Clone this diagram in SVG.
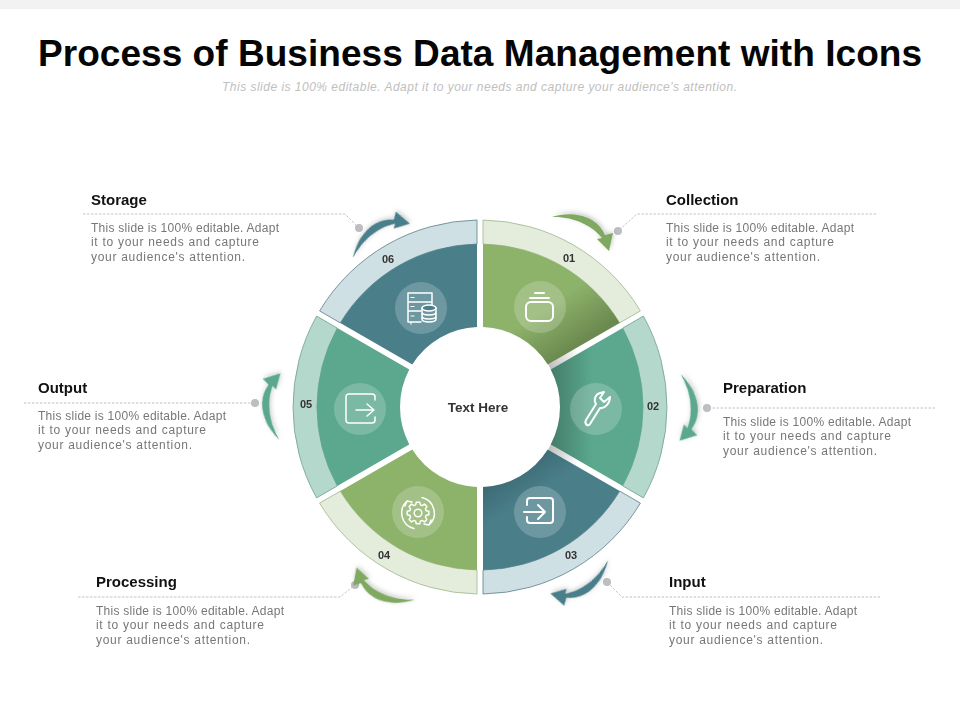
<svg xmlns="http://www.w3.org/2000/svg" xmlns:xlink="http://www.w3.org/1999/xlink" width="960" height="720" viewBox="0 0 960 720">
<style>
text{font-family:"Liberation Sans",Arial,sans-serif}
.h{font-size:15px;font-weight:700;fill:#111}
.b{font-size:12px;fill:#777}
.n{font-size:11px;font-weight:700;fill:#333;text-anchor:middle}
.lead{fill:none;stroke:#b5b5b5;stroke-width:.8;stroke-dasharray:2.5 1.5}
.dot{fill:#bdbdc2}
.g1{fill:#8DB26A}.g2{fill:#5BA88F}.g3{fill:#4A7F8A}
.b1{fill:#E4EDDC;stroke:#9fb58c;stroke-width:.8}
.b2{fill:#B5D8CD;stroke:#6fa08f;stroke-width:.8}
.b3{fill:#CFE0E4;stroke:#5b7f88;stroke-width:.8}
.disc{fill:#fff;fill-opacity:.2}
.ic{fill:none;stroke:#fff;stroke-width:2;stroke-linecap:round;stroke-linejoin:round}
.ic1{fill:none;stroke:#fff;stroke-width:1.5;stroke-linecap:round;stroke-linejoin:round}
</style>
<defs>
<linearGradient id="sh1" gradientUnits="userSpaceOnUse" x1="552" y1="362" x2="525" y2="322"><stop offset="0" stop-color="#6c8a50"/><stop offset="1" stop-color="#8DB26A"/></linearGradient>
<linearGradient id="sh2" gradientUnits="userSpaceOnUse" x1="553" y1="405" x2="592" y2="405"><stop offset="0" stop-color="#457f6c"/><stop offset="1" stop-color="#5BA88F"/></linearGradient>
<linearGradient id="sh3" gradientUnits="userSpaceOnUse" x1="528" y1="452" x2="550" y2="486"><stop offset="0" stop-color="#3b6771"/><stop offset="1" stop-color="#4A7F8A"/></linearGradient>
<linearGradient id="gap1" gradientUnits="userSpaceOnUse" x1="549" y1="367" x2="578" y2="350"><stop offset="0" stop-color="#bdbdbd"/><stop offset="1" stop-color="#fff"/></linearGradient>
<linearGradient id="gap2" gradientUnits="userSpaceOnUse" x1="549" y1="447" x2="578" y2="464"><stop offset="0" stop-color="#bdbdbd"/><stop offset="1" stop-color="#fff"/></linearGradient>
<filter id="ash" x="-40%" y="-40%" width="180%" height="180%"><feDropShadow dx="1" dy="-1.5" stdDeviation="2.5" flood-color="#000" flood-opacity=".22"/></filter>
<path id="arw" d="M552 217C570 211 596 214 605 235L613 233L609 251L597 239L602 238C592 225 572 216 552 217Z"/>
</defs>
<rect width="960" height="720" fill="#fff"/>
<rect width="960" height="9" fill="#f2f2f2"/>
<text x="38" y="66" font-size="37" font-weight="700" fill="#050505" textLength="884" lengthAdjust="spacing">Process of Business Data Management with Icons</text>
<text x="222" y="91" font-size="12" font-style="italic" fill="#c0c0c0" textLength="515" lengthAdjust="spacing">This slide is 100% editable. Adapt it to your needs and capture your audience's attention.</text>

<g id="connectors">
<path class="lead" d="M83 214H345L359 228"/><circle class="dot" cx="359" cy="228" r="4"/>
<path class="lead" d="M876 214H637L618 231"/><circle class="dot" cx="618" cy="231" r="4"/>
<path class="lead" d="M935 408H707"/><circle class="dot" cx="707" cy="408" r="4"/>
<path class="lead" d="M24 403H255"/><circle class="dot" cx="255" cy="403" r="4"/>
<path class="lead" d="M880 597H622L607 582"/><circle class="dot" cx="607" cy="582" r="4"/>
<path class="lead" d="M78 597H340L355 585"/><circle class="dot" cx="355" cy="585" r="4"/>
</g>
<g id="arrows" filter="url(#ash)">
<use xlink:href="#arw" href="#arw" fill="#7FA960"/>
<use xlink:href="#arw" href="#arw" fill="#5BA88F" transform="rotate(60 480 407)"/>
<use xlink:href="#arw" href="#arw" fill="#4A7F8A" transform="rotate(119 480 407) translate(0 4)"/>
<use xlink:href="#arw" href="#arw" fill="#7FA960" transform="rotate(178 480 407)"/>
<use xlink:href="#arw" href="#arw" fill="#5BA88F" transform="rotate(240 480 407)"/>
<use xlink:href="#arw" href="#arw" fill="#4A7F8A" transform="rotate(298 480 407) translate(0 8)"/>
</g>

<path fill="url(#gap1)" d="M548 364L551 370L578 354L575 348Z"/>
<path fill="url(#gap2)" d="M548 450L551 444L578 460L575 466Z"/>

<g id="node-01">
<path class="b1" d="M483 220A187 187 0 0 1 640.4 310.9L619.7 322.9A163 163 0 0 0 483 244Z"/>
<path fill="url(#sh1)" d="M483 244A163 163 0 0 1 619.7 322.9L547.7 364.4A80 80 0 0 0 483 327Z"/>
<circle class="disc" cx="540" cy="307" r="26"/>
<g class="ic"><rect x="526" y="302" width="27" height="19" rx="5"/><path d="M530 298H549M535 293H544"/></g>
<text class="n" x="569" y="262">01</text>
</g>
<g id="node-02">
<path class="b2" d="M643.4 316.1A187 187 0 0 1 643.4 497.9L622.7 485.9A163 163 0 0 0 622.7 328.1Z"/>
<path fill="url(#sh2)" d="M622.7 328.1A163 163 0 0 1 622.7 485.9L550.7 444.4A80 80 0 0 0 550.7 369.6Z"/>
<circle class="disc" cx="596" cy="409" r="26"/>
<path class="ic" d="M586 420L596 404C593 399 596 394 600 393L604 392L600 398L604 402L610 397C610 403 605 409 600 408L590 424C588 427 584 424 586 420Z"/>
<text class="n" x="653" y="410">02</text>
</g>
<g id="node-03">
<path class="b3" d="M640.4 503.1A187 187 0 0 1 483 594V570A163 163 0 0 0 619.7 491.1Z"/>
<path fill="url(#sh3)" d="M619.7 491.1A163 163 0 0 1 483 570V487A80 80 0 0 0 547.7 449.6Z"/>
<circle class="disc" cx="540" cy="512" r="26"/>
<g class="ic"><path d="M527 505V501Q527 498 530 498H550Q553 498 553 501V520Q553 523 550 523H530Q527 523 527 520V517"/><path d="M524 512H545M538 505L545 512L538 519"/></g>
<text class="n" x="571" y="559">03</text>
</g>
<g id="node-04">
<path class="b1" d="M477 594A187 187 0 0 1 319.6 503.1L340.3 491.1A163 163 0 0 0 477 570Z"/>
<path class="g1" d="M477 570A163 163 0 0 1 340.3 491.1L412.3 449.6A80 80 0 0 0 477 487Z"/>
<circle class="disc" cx="418" cy="512" r="26"/>
<g class="ic1" transform="translate(418 513)">
<path d="M8.17 -2.34L10.86 -1.72L10.86 1.72L8.17 2.34L7.43 4.12L8.9 6.47L6.47 8.9L4.12 7.43L2.34 8.17L1.72 10.86L-1.72 10.86L-2.34 8.17L-4.12 7.43L-6.47 8.9L-8.9 6.47L-7.43 4.12L-8.17 2.34L-10.86 1.72L-10.86 -1.72L-8.17 -2.34L-7.43 -4.12L-8.9 -6.47L-6.47 -8.9L-4.12 -7.43L-2.34 -8.17L-1.72 -10.86L1.72 -10.86L2.34 -8.17L4.12 -7.43L6.47 -8.9L8.9 -6.47L7.43 -4.12Z"/>
<circle r="3.8"/>
<path d="M4 -15.5A16 16 0 0 1 11 12M6 11L11 12L13 7"/>
<path d="M-4 15.5A16 16 0 0 1 -11 -12M-6 -11L-11 -12L-13 -7"/>
</g>
<text class="n" x="384" y="559">04</text>
</g>
<g id="node-05">
<path class="b2" d="M316.6 497.9A187 187 0 0 1 316.6 316.1L337.3 328.1A163 163 0 0 0 337.3 485.9Z"/>
<path class="g2" d="M337.3 485.9A163 163 0 0 1 337.3 328.1L409.3 369.6A80 80 0 0 0 409.3 444.4Z"/>
<circle class="disc" cx="360" cy="409" r="26"/>
<g class="ic1"><path d="M375 400V397Q375 394 372 394H349Q346 394 346 397V420Q346 423 349 423H372Q375 423 375 420V417"/><path d="M356 410H374M367 404L374 410L367 416"/></g>
<text class="n" x="306" y="408">05</text>
</g>
<g id="node-06">
<path class="b3" d="M319.6 310.9A187 187 0 0 1 477 220V244A163 163 0 0 0 340.3 322.9Z"/>
<path class="g3" d="M340.3 322.9A163 163 0 0 1 477 244V327A80 80 0 0 0 412.3 364.4Z"/>
<circle class="disc" cx="421" cy="308" r="26"/>
<g class="ic1"><path d="M421 322H408V293H432V306M408 302H432M408 311H421"/>
<path d="M411 297.5H414M411 306.5H414M411 316H414M411 322V324" stroke-width="1.2"/>
<ellipse cx="429" cy="308" rx="7" ry="3" fill="#4A7F8A"/><path d="M422 308V319C422 323 436 323 436 319V308M422 312C422 316 436 316 436 312M422 316C422 320 436 320 436 316"/></g>
<text class="n" x="388" y="263">06</text>
</g>
<g id="node-center"><text x="478" y="412" font-size="13.5" font-weight="700" fill="#333" text-anchor="middle">Text Here</text></g>

<g id="label-storage"><text class="h" x="91" y="205">Storage</text><text class="b" x="91" y="232" textLength="188">This slide is 100% editable. Adapt</text><text class="b" x="91" y="246" textLength="168">it to your needs and capture</text><text class="b" x="91" y="261" textLength="154">your audience's attention.</text></g>
<g id="label-collection"><text class="h" x="666" y="205">Collection</text><text class="b" x="666" y="232" textLength="188">This slide is 100% editable. Adapt</text><text class="b" x="666" y="246" textLength="168">it to your needs and capture</text><text class="b" x="666" y="261" textLength="154">your audience's attention.</text></g>
<g id="label-preparation"><text class="h" x="723" y="393">Preparation</text><text class="b" x="723" y="426" textLength="188">This slide is 100% editable. Adapt</text><text class="b" x="723" y="440" textLength="168">it to your needs and capture</text><text class="b" x="723" y="455" textLength="154">your audience's attention.</text></g>
<g id="label-output"><text class="h" x="38" y="393">Output</text><text class="b" x="38" y="420" textLength="188">This slide is 100% editable. Adapt</text><text class="b" x="38" y="434" textLength="168">it to your needs and capture</text><text class="b" x="38" y="449" textLength="154">your audience's attention.</text></g>
<g id="label-processing"><text class="h" x="96" y="587">Processing</text><text class="b" x="96" y="615" textLength="188">This slide is 100% editable. Adapt</text><text class="b" x="96" y="629" textLength="168">it to your needs and capture</text><text class="b" x="96" y="644" textLength="154">your audience's attention.</text></g>
<g id="label-input"><text class="h" x="669" y="587">Input</text><text class="b" x="669" y="615" textLength="188">This slide is 100% editable. Adapt</text><text class="b" x="669" y="629" textLength="168">it to your needs and capture</text><text class="b" x="669" y="644" textLength="154">your audience's attention.</text></g>
</svg>
